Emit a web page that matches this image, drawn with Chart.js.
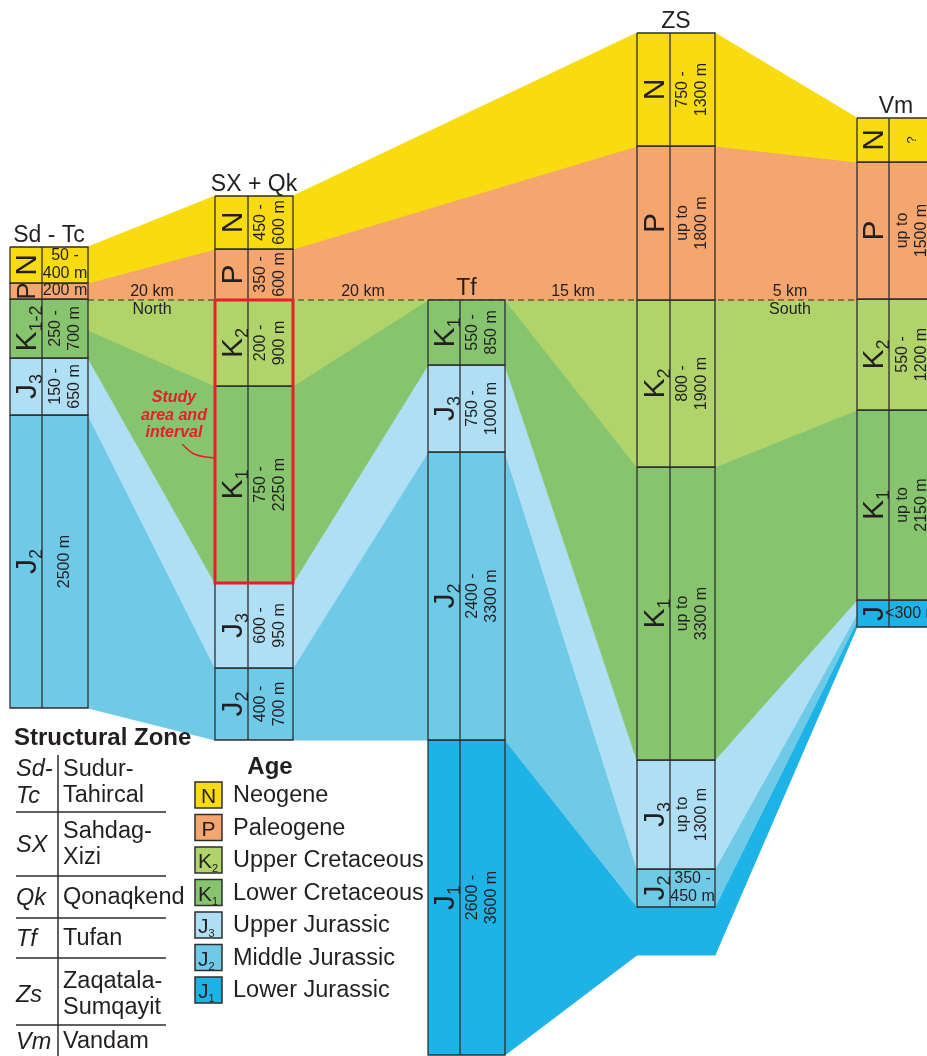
<!DOCTYPE html>
<html>
<head>
<meta charset="utf-8">
<title>Stratigraphic correlation, north to south</title>
<script src="https://cdn.jsdelivr.net/npm/chart.js@4.4.0/dist/chart.umd.min.js"></script>
<style>
  html, body { margin: 0; padding: 0; background: #fff; }
  #wrap { width: 927px; height: 1056px; }
</style>
</head>
<body>
<div id="wrap"><canvas id="section" width="927" height="1056"></canvas></div>
<script>
// Structural zones along the section, north -> south
const zones = ['Sd - Tc', 'SX + Qk', 'Tf', 'ZS', 'Vm'];
const gapKm = ['20 km', '20 km', '15 km', '5 km'];

// Age units for the legend
const ageCodes = ['N', 'P', 'K2', 'K1', 'J3', 'J2', 'J1'];
const ageNames = ['Neogene', 'Paleogene', 'Upper Cretaceous', 'Lower Cretaceous',
  'Upper Jurassic', 'Middle Jurassic', 'Lower Jurassic'];

// Structural zone key
const zoneAbbr = ['Sd-|Tc', 'SX', 'Qk', 'Tf', 'Zs', 'Vm'];
const zoneNames = ['Sudur-|Tahircal', 'Sahdag-|Xizi', 'Qonaqkend', 'Tufan', 'Zaqatala-|Sumqayit', 'Vandam'];

// Logs: [unit, top, base, thickness]; depth in section units, datum (base of P) = 300
const logSdTc = [
  ['N', 247, 283, '50 -|400 m'],
  ['P', 283, 299, '200 m'],
  ['K12', 299, 358, '250 -|700 m'],
  ['J3', 358, 415, '150 -|650 m'],
  ['J2', 415, 708, '2500 m']
];
const logSxQk = [
  ['N', 196, 249, '450 -|600 m'],
  ['P', 249, 300, '350 -|600 m'],
  ['K2', 300, 386, '200 -|900 m'],
  ['K1', 386, 583, '750 -|2250 m'],
  ['J3', 583, 668, '600 -|950 m'],
  ['J2', 668, 740, '400 -|700 m']
];
const logTf = [
  ['K1', 300, 365, '550 -|850 m'],
  ['J3', 365, 452, '750 -|1000 m'],
  ['J2', 452, 740, '2400 -|3300 m'],
  ['J1', 740, 1055, '2600 -|3600 m']
];
const logZs = [
  ['N', 33, 146, '750 -|1300 m'],
  ['P', 146, 300, 'up to|1800 m'],
  ['K2', 300, 467, '800 -|1900 m'],
  ['K1', 467, 760, 'up to|3300 m'],
  ['J3', 760, 869, 'up to|1300 m'],
  ['J2', 869, 907, '350 -|450 m']
];
const logVm = [
  ['N', 118, 162, '?'],
  ['P', 162, 299, 'up to|1500 m'],
  ['K2', 299, 410, '550 -|1200 m'],
  ['K1', 410, 600, 'up to|2150 m'],
  ['J', 600, 627, '<300 m']
];
const logs = [logSdTc, logSxQk, logTf, logZs, logVm];

// Correlation between logs: [unit, top, base on the left log, top, base on the right log]
const linkSdTcSx = [
  ['N', 247, 283, 196, 249],
  ['P', 283, 299, 249, 300],
  ['K2', 299, 330, 300, 386],
  ['K1', 330, 358, 386, 583],
  ['J3', 358, 415, 583, 668],
  ['J2', 415, 708, 668, 740]
];
const linkSxTf = [
  ['K2', 300, 386, 300, 300],
  ['K1', 386, 583, 300, 365],
  ['J3', 583, 668, 365, 452],
  ['J2', 668, 740, 452, 740]
];
const linkSxZs = [
  ['N', 196, 249, 33, 146],
  ['P', 249, 300, 146, 300]
];
const linkTfZs = [
  ['K2', 300, 300, 300, 467],
  ['K1', 300, 365, 467, 760],
  ['J3', 365, 452, 760, 869],
  ['J2', 452, 740, 869, 907],
  ['J1', 740, 1055, 907, 955]
];
const underZs = [['J1', 907, 955, 907, 955]];
const linkZsVm = [
  ['N', 33, 146, 118, 162],
  ['P', 146, 300, 162, 300],
  ['K2', 300, 467, 299, 410],
  ['K1', 467, 760, 410, 600],
  ['J3', 760, 869, 600, 614],
  ['J2', 869, 907, 614, 621],
  ['J1', 907, 955, 621, 627]
];

// ---- layout and styling ----
const colX = [[10, 42, 88], [215, 248, 293], [428, 460, 505], [637, 670, 715], [857, 889, 935]];
const kmX = [152, 363, 573, 790];
const datum = 300;
const ff = '"Liberation Sans", Arial, sans-serif';
const ink = '#231f20';
const edge = '#2e2e2e';
const red = '#e3202a';
const colors = {
  N: '#f9dc10', P: '#f5a66f', K2: '#b0d36a', K1: '#87c46e', K12: '#87c46e',
  J3: '#aedff5', J2: '#6fcae8', J1: '#1eb3e6', J: '#1eb3e6'
};

const datasets = [];

function addLinks(rows, xl, xr) {
  rows.forEach(([u, t1, b1, t2, b2]) => {
    datasets.push({
      data: [{x: xl, y: t1}, {x: xr, y: t2}, {x: xr, y: b2}, {x: xl, y: b1}, {x: xl, y: t1}],
      backgroundColor: colors[u], borderColor: colors[u], borderWidth: 1,
      fill: 'shape', order: 4
    });
  });
}
addLinks(linkSdTcSx, colX[0][2], colX[1][0]);
addLinks(linkSxTf, colX[1][2], colX[2][0]);
addLinks(linkSxZs, colX[1][2], colX[3][0]);
addLinks(linkTfZs, colX[2][2], colX[3][0]);
addLinks(underZs, colX[3][0], colX[3][2]);
addLinks(linkZsVm, colX[3][2], colX[4][0]);

// datum line at the base of the Paleogene
datasets.push({
  data: [{x: colX[0][2], y: datum}, {x: colX[4][0], y: datum}],
  borderColor: edge, borderWidth: 1.2, borderDash: [6, 4], fill: false, order: 3
});

// log cells and the divider of each log
logs.forEach((log, i) => {
  const [l, d, r] = colX[i];
  log.forEach(([u, top, base]) => {
    datasets.push({
      data: [{x: l, y: top}, {x: r, y: top}, {x: r, y: base}, {x: l, y: base}, {x: l, y: top}],
      backgroundColor: colors[u], borderColor: edge, borderWidth: 1.3,
      fill: 'shape', order: 2
    });
  });
  datasets.push({
    data: [{x: d, y: log[0][1]}, {x: d, y: log[log.length - 1][2]}],
    borderColor: edge, borderWidth: 1.3, fill: false, order: 1
  });
});

// study interval: K2 + K1 of the SX + Qk log
const studyTop = logSxQk[2][1], studyBase = logSxQk[3][2];
datasets.push({
  data: [{x: colX[1][0], y: studyTop}, {x: colX[1][2], y: studyTop}, {x: colX[1][2], y: studyBase},
    {x: colX[1][0], y: studyBase}, {x: colX[1][0], y: studyTop}],
  borderColor: red, borderWidth: 3, fill: false, order: 0
});
datasets.push({
  data: [{x: 182, y: 444}, {x: 194, y: 454}, {x: 214, y: 458}],
  borderColor: red, borderWidth: 1.5, fill: false, tension: 0.45, order: 0
});

function drawUnit(ctx, code, cx, cy, size) {
  const main = code.charAt(0);
  let sub = code.slice(1);
  if (sub === '12') sub = '1-2';
  ctx.save();
  ctx.translate(cx, cy);
  ctx.rotate(-Math.PI / 2);
  ctx.textAlign = 'left';
  ctx.textBaseline = 'alphabetic';
  ctx.font = size + 'px ' + ff;
  const w1 = ctx.measureText(main).width;
  ctx.font = Math.round(size * 0.6) + 'px ' + ff;
  const w2 = sub ? ctx.measureText(sub).width : 0;
  const start = -(w1 + w2) / 2;
  ctx.font = size + 'px ' + ff;
  ctx.fillText(main, start, size * 0.34);
  if (sub) {
    ctx.font = Math.round(size * 0.6) + 'px ' + ff;
    ctx.fillText(sub, start + w1, size * 0.54);
  }
  ctx.restore();
}

function drawLines(ctx, text, cx, cy, rotated, font, lh) {
  const lines = text.split('|');
  ctx.save();
  ctx.translate(cx, cy);
  if (rotated) ctx.rotate(-Math.PI / 2);
  ctx.font = font;
  lines.forEach((s, i) => ctx.fillText(s, 0, (i - (lines.length - 1) / 2) * lh));
  ctx.restore();
}

const sectionLabels = {
  id: 'sectionLabels',
  afterDatasetsDraw(chart) {
    const ctx = chart.ctx;
    const sx = v => chart.scales.x.getPixelForValue(v);
    const sy = v => chart.scales.y.getPixelForValue(v);
    ctx.save();
    ctx.fillStyle = ink;

    logs.forEach((log, i) => {
      const [l, d, r] = colX[i];
      ctx.font = '23px ' + ff;
      ctx.textAlign = 'center';
      ctx.textBaseline = 'alphabetic';
      ctx.fillText(zones[i], (sx(l) + sx(r)) / 2, sy(log[0][1]) - 5);
      log.forEach(([u, top, base, thick]) => {
        const cy = (sy(top) + sy(base)) / 2;
        const h = sy(base) - sy(top);
        drawUnit(ctx, u, (sx(l) + sx(d)) / 2, cy, u === 'P' && h < 20 ? 26 : 30);
        ctx.textAlign = 'center';
        ctx.textBaseline = 'middle';
        drawLines(ctx, thick, (sx(d) + sx(r)) / 2, cy, h > 40,
          (thick === '?' ? '13px ' : '16px ') + ff, h > 40 ? 19 : 18);
      });
    });

    // distances between logs
    ctx.font = '16px ' + ff;
    ctx.textAlign = 'center';
    ctx.textBaseline = 'middle';
    gapKm.forEach((t, i) => ctx.fillText(t, kmX[i], sy(datum) - 8));
    ctx.fillText('North', kmX[0], sy(datum) + 10);
    ctx.fillText('South', kmX[3], sy(datum) + 10);

    // study interval note
    ctx.fillStyle = red;
    ctx.font = 'italic bold 16px ' + ff;
    ['Study', 'area and', 'interval'].forEach((t, i) => ctx.fillText(t, 174, 398 + i * 17.5));

    // structural zone key
    ctx.fillStyle = ink;
    ctx.textAlign = 'left';
    ctx.font = 'bold 24px ' + ff;
    ctx.textBaseline = 'alphabetic';
    ctx.fillText('Structural Zone', 14, 745);
    const rowY = [783, 845, 898, 939, 995, 1042];
    const sepY = [812, 876, 918, 958, 1025];
    ctx.strokeStyle = edge;
    ctx.lineWidth = 1.5;
    ctx.beginPath();
    ctx.moveTo(58, 755); ctx.lineTo(58, 1056);
    sepY.forEach(yy => { ctx.moveTo(16, yy); ctx.lineTo(166, yy); });
    ctx.stroke();
    ctx.textBaseline = 'middle';
    zoneAbbr.forEach((t, i) => {
      const parts = t.split('|');
      ctx.font = 'italic 23.5px ' + ff;
      parts.forEach((p, k) => ctx.fillText(p, 16, rowY[i] + (k - (parts.length - 1) / 2) * 27));
      const names = zoneNames[i].split('|');
      ctx.font = '23.5px ' + ff;
      names.forEach((p, k) => ctx.fillText(p, 63, rowY[i] + (k - (names.length - 1) / 2) * 26));
    });

    // age key
    ctx.font = 'bold 24px ' + ff;
    ctx.textAlign = 'center';
    ctx.fillText('Age', 270, 767);
    ageCodes.forEach((c, i) => {
      const top = 782 + i * 32.5;
      ctx.fillStyle = colors[c];
      ctx.fillRect(195, top, 27, 26);
      ctx.strokeRect(195, top, 27, 26);
      ctx.fillStyle = ink;
      ctx.textAlign = 'left';
      ctx.textBaseline = 'alphabetic';
      ctx.font = '21px ' + ff;
      const w = ctx.measureText(c.charAt(0)).width;
      const x0 = c.length > 1 ? 198 : 208.5 - w / 2;
      ctx.fillText(c.charAt(0), x0, top + 21);
      if (c.length > 1) {
        ctx.font = '11px ' + ff;
        ctx.fillText(c.slice(1), x0 + w, top + 25);
      }
      ctx.font = '23.5px ' + ff;
      ctx.textBaseline = 'middle';
      ctx.fillText(ageNames[i], 233, top + 14);
    });
    ctx.restore();
  }
};

new Chart(document.getElementById('section'), {
  type: 'line',
  data: { datasets },
  options: {
    responsive: false,
    animation: false,
    events: [],
    layout: { padding: 0 },
    elements: { point: { radius: 0, hoverRadius: 0 }, line: { tension: 0 } },
    plugins: {
      legend: { display: false },
      tooltip: { enabled: false },
      filler: { propagate: false }
    },
    scales: {
      x: { type: 'linear', min: 0, max: 927, display: false },
      y: { type: 'linear', min: 0, max: 1056, reverse: true, display: false }
    }
  },
  plugins: [sectionLabels]
});
</script>
</body>
</html>
